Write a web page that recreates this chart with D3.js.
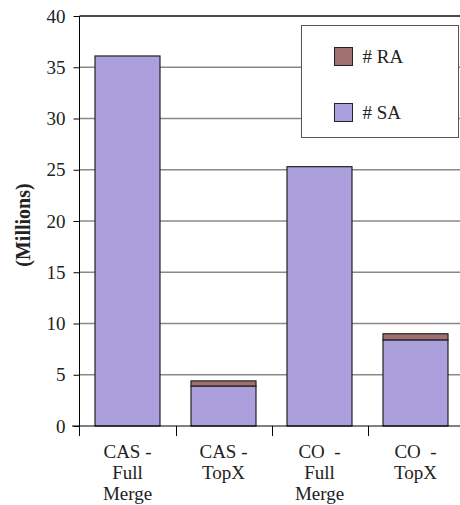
<!DOCTYPE html>
<html><head><meta charset="utf-8">
<script src="https://cdn.jsdelivr.net/npm/d3@7"></script>
<style>body{margin:0;background:#fff}svg{display:block}</style>
</head><body>
<script>
const categories = [["CAS -","Full","Merge"],["CAS -","TopX"],["CO  -","Full","Merge"],["CO  -","TopX"]];
const seriesNames = ["# SA","# RA"];
const saValues = [36.1, 3.9, 25.3, 8.4];
const raValues = [0.0, 0.5, 0.0, 0.6];
const yTicks = [0,5,10,15,20,25,30,35,40];
const colors = {"# SA":"#ab9fdc","# RA":"#a07070"};

const W=460,H=505;
const svg=d3.select("body").append("svg").attr("width",W).attr("height",H);
const font="'Liberation Serif','Times New Roman',serif";
const x=d3.scaleBand().domain(d3.range(categories.length)).range([79.5,463.5]).paddingInner(0.323).paddingOuter(0.1615);
const y=d3.scaleLinear().domain([0,40]).range([426,16]);

// gridlines
svg.append("g").selectAll("line").data(yTicks.filter(t=>t>0)).join("line")
 .attr("x1",79.5).attr("x2",W).attr("y1",d=>y(d)).attr("y2",d=>y(d))
 .attr("stroke",d=>d===40?"#111":"#888").attr("stroke-width",1.5);

// bars
const rows=categories.map((c,i)=>({i,"# SA":saValues[i],"# RA":raValues[i]}));
const stack=d3.stack().keys(seriesNames)(rows);
svg.append("g").selectAll("g").data(stack).join("g").attr("fill",d=>colors[d.key])
 .selectAll("rect").data(d=>d.filter(p=>p[1]-p[0]>0)).join("rect")
 .attr("x",d=>x(d.data.i)).attr("width",x.bandwidth())
 .attr("y",d=>y(d[1])).attr("height",d=>y(d[0])-y(d[1]))
 .attr("stroke","#222").attr("stroke-width",1.2);

// y axis
const ya=d3.axisLeft(y).tickValues(yTicks).tickSize(6).tickPadding(8);
const gy=svg.append("g").attr("transform","translate(79.5,0)").call(ya);
gy.select(".domain").remove();
gy.append("line").attr("x1",0).attr("x2",0).attr("y1",16).attr("y2",436).attr("stroke","#000");
gy.selectAll(".tick line").attr("stroke","#000");
gy.selectAll(".tick text").attr("font-family",font).attr("font-size",19).attr("fill","#222");

// x axis baseline and ticks
svg.append("line").attr("x1",72).attr("x2",W).attr("y1",y(0)).attr("y2",y(0)).attr("stroke","#000");
const bounds=d3.range(categories.length).map(i=>x(i)-x.step()*x.paddingInner()/2).slice(1);
svg.append("g").selectAll("line").data(bounds).join("line")
 .attr("x1",d=>Math.round(d)+0.5).attr("x2",d=>Math.round(d)+0.5).attr("y1",y(0)).attr("y2",y(0)+10).attr("stroke","#000");

// x labels
const xl=svg.append("g").selectAll("text").data(categories).join("text")
 .attr("x",(d,i)=>x(i)+x.bandwidth()/2).attr("y",458)
 .attr("text-anchor","middle").attr("font-family",font).attr("font-size",19).attr("fill","#222")
 .attr("xml:space","preserve").style("white-space","pre");
xl.selectAll("tspan").data(d=>d).join("tspan")
 .attr("x",function(){return this.parentNode.getAttribute("x");})
 .attr("dy",(d,j)=>j===0?0:21).text(d=>d);

// y title
svg.append("text").attr("transform","translate(30,225) rotate(-90)")
 .attr("text-anchor","middle").attr("font-family",font).attr("font-weight","bold").attr("font-size",20)
 .attr("fill","#222").text("(Millions)");

// legend
const lg=svg.append("g");
lg.append("rect").attr("x",301.5).attr("y",25.5).attr("width",157).attr("height",112)
 .attr("fill","#fff").attr("stroke","#555").attr("stroke-width",1);
const legItems=["# RA","# SA"];
legItems.forEach((k,j)=>{
  const yy=47+j*56;
  lg.append("rect").attr("x",334.5).attr("y",yy+0.5).attr("width",18).attr("height",18)
   .attr("fill",colors[k]).attr("stroke","#222").attr("stroke-width",1);
  lg.append("text").attr("x",362.5).attr("y",yy+16).attr("font-family",font).attr("font-size",19)
   .attr("fill","#222").text(k);
});
</script>
</body></html>
